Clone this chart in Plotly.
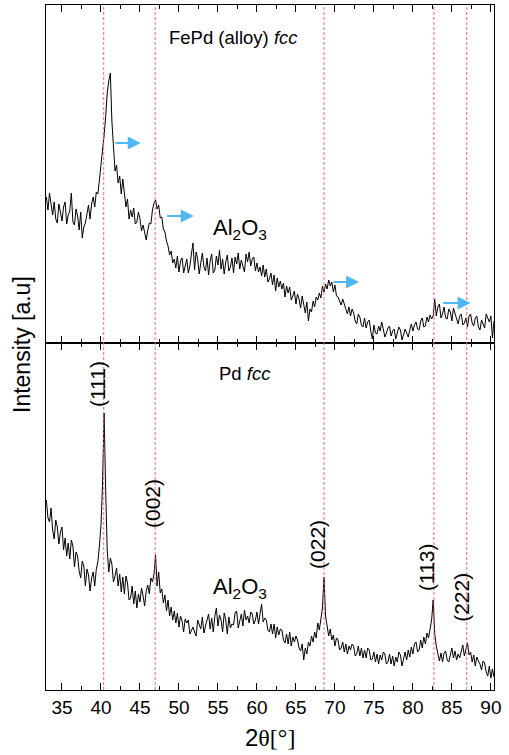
import numpy as np
import plotly.graph_objects as go

# ---------------- data ----------------
# 2theta grid: 33.0 .. 90.4 in 0.2 deg steps (each row below = one degree, 5 samples)
fepd_intensity = [
    146, 133, 150, 139, 128,  # 33
    141, 124, 120, 139, 131,  # 34
    122, 136, 141, 119, 128,  # 35
    132, 150, 121, 118, 134,  # 36
    127, 113, 131, 105, 116,  # 37
    120, 131, 138, 124, 139,  # 38
    146, 136, 151, 149, 163,  # 39
    176, 190, 208, 226, 250,  # 40
    262, 270, 222, 192, 172,  # 41
    178, 160, 167, 149, 164,  # 42
    147, 136, 144, 124, 133,  # 43
    126, 135, 119, 121, 131,  # 44
    124, 112, 118, 109, 103,  # 45
    113, 120, 119, 133, 140,  # 46
    143, 134, 138, 125, 126,  # 47
    114, 111, 102, 97, 88,    # 48
    92, 80, 84, 75, 87,       # 49
    71, 82, 85, 70, 77,       # 50
    84, 70, 77, 89, 100,      # 51
    73, 91, 84, 69, 80,       # 52
    90, 76, 72, 85, 68,       # 53
    82, 89, 70, 73, 87,       # 54
    78, 93, 74, 84, 69,       # 55
    81, 88, 72, 76, 85,       # 56
    70, 86, 79, 90, 74,       # 57
    83, 76, 71, 89, 81,       # 58
    91, 77, 84, 86, 72,       # 59
    80, 71, 76, 67, 78,       # 60
    66, 74, 61, 64, 70,       # 61
    58, 68, 52, 65, 56,       # 62
    62, 54, 60, 46, 57,       # 63
    50, 56, 43, 47, 52,       # 64
    39, 49, 44, 35, 47,       # 65
    36, 30, 41, 22, 34,       # 66
    31, 42, 36, 46, 43,       # 67
    50, 45, 57, 51, 59,       # 68
    54, 63, 57, 61, 51,       # 69
    58, 47, 46, 41, 38,       # 70
    44, 39, 32, 29, 36,       # 71
    27, 34, 30, 22, 19,       # 72
    29, 26, 18, 16, 25,       # 73
    15, 21, 23, 12, 4,        # 74
    18, 10, 9, 17, 12,        # 75
    21, 14, 6, 10, 15,        # 76
    17, 7, 12, 14, 4,         # 77
    9, 16, 13, 3, 8,          # 78
    14, 10, 6, 13, 19,        # 79
    12, 18, 21, 14, 13,       # 80
    22, 25, 16, 17, 26,       # 81
    21, 28, 24, 27, 44,       # 82
    27, 36, 39, 25, 29,       # 83
    36, 25, 24, 34, 31,       # 84
    22, 35, 30, 25, 19,       # 85
    27, 29, 18, 20, 25,       # 86
    16, 27, 29, 20, 17,       # 87
    25, 27, 16, 13, 23,       # 88
    18, 15, 29, 25, 21,       # 89
    27, 5, 22,                # 90
]

pd_intensity = [
    190, 172, 168, 182, 160,  # 33
    151, 170, 163, 146, 158,  # 34
    163, 140, 152, 134, 147,  # 35
    131, 150, 144, 123, 138,  # 36
    134, 119, 112, 129, 124,  # 37
    104, 121, 115, 99, 112,   # 38
    118, 104, 121, 128, 144,  # 39
    165, 205, 277, 200, 140,  # 40
    118, 132, 126, 108, 114,  # 41
    122, 104, 116, 98, 113,   # 42
    96, 114, 107, 90, 92,     # 43
    104, 86, 99, 82, 96,      # 44
    88, 102, 94, 84, 99,      # 45
    105, 96, 112, 108, 116,   # 46
    135, 104, 118, 97, 101,   # 47
    87, 95, 79, 90, 74,       # 48
    83, 70, 79, 67, 77,       # 49
    63, 74, 69, 58, 71,       # 50
    67, 70, 56, 60, 63,       # 51
    58, 54, 70, 66, 61,       # 52
    73, 57, 64, 69, 76,       # 53
    61, 72, 58, 74, 82,       # 54
    64, 75, 70, 58, 77,       # 55
    70, 56, 73, 62, 66,       # 56
    65, 77, 79, 62, 68,       # 57
    76, 64, 80, 70, 74,       # 58
    67, 78, 76, 66, 70,       # 59
    78, 66, 75, 86, 68,       # 60
    72, 70, 60, 58, 66,       # 61
    56, 66, 52, 63, 55,       # 62
    61, 60, 50, 47, 56,       # 63
    46, 58, 44, 53, 48,       # 64
    54, 50, 42, 39, 46,       # 65
    30, 42, 36, 48, 44,       # 66
    54, 48, 58, 52, 67,       # 67
    60, 71, 82, 113, 74,      # 68
    64, 54, 61, 50, 55,       # 69
    44, 52, 50, 40, 42,       # 70
    48, 38, 46, 36, 44,       # 71
    40, 46, 44, 34, 36,       # 72
    44, 34, 42, 32, 40,       # 73
    32, 42, 40, 30, 31,       # 74
    38, 28, 36, 26, 35,       # 75
    30, 38, 36, 26, 28,       # 76
    36, 26, 34, 24, 33,       # 77
    28, 38, 35, 24, 30,       # 78
    38, 30, 40, 33, 43,       # 79
    36, 46, 48, 38, 40,       # 80
    50, 42, 53, 46, 57,       # 81
    52, 61, 70, 90, 56,       # 82
    44, 36, 29, 37, 28,       # 83
    37, 39, 30, 28, 35,       # 84
    42, 32, 39, 30, 36,       # 85
    32, 39, 45, 34, 42,       # 86
    47, 35, 38, 28, 35,       # 87
    24, 33, 29, 26, 20,       # 88
    29, 27, 18, 14, 24,       # 89
    12, 21, 13,               # 90
]

two_theta_start = 33.0
two_theta_step = 0.2
two_theta_fepd = np.round(two_theta_start + two_theta_step * np.arange(len(fepd_intensity)), 2)
two_theta_pd = np.round(two_theta_start + two_theta_step * np.arange(len(pd_intensity)), 2)

# reference peak positions (red dashed lines)
reference_peaks = [40.35, 46.95, 68.6, 82.7, 86.9]

# Miller indices labels (bottom panel) with their positions
hkl_labels = ["(111)", "(002)", "(022)", "(113)", "(222)"]
hkl_x = [39.49, 46.54, 67.69, 81.67, 86.15]
hkl_y = [306, 187, 146, 123, 93]

# peak-shift arrows in the FePd panel (start x, end x, height)
arrow_x0 = [41.65, 48.3, 69.65, 83.7]
arrow_x1 = [45.1, 51.9, 73.1, 87.4]
arrow_y = [200, 127, 61, 40]

x_ticks = [35, 40, 45, 50, 55, 60, 65, 70, 75, 80, 85, 90]

# ---------------- figure ----------------
FONT = "Liberation Sans, Arial, sans-serif"
split = 347 / 685

fig = go.Figure()
fig.add_trace(go.Scatter(x=two_theta_fepd, y=fepd_intensity, mode="lines",
                         line=dict(color="black", width=1), xaxis="x2", yaxis="y2",
                         showlegend=False, hoverinfo="skip"))
fig.add_trace(go.Scatter(x=two_theta_pd, y=pd_intensity, mode="lines",
                         line=dict(color="black", width=1), xaxis="x", yaxis="y",
                         showlegend=False, hoverinfo="skip"))

common_x = dict(range=[32.95, 90.4], showline=True, linecolor="black", linewidth=1.2,
                mirror="ticks", ticks="inside", ticklen=7, tickwidth=1.2, tickcolor="black",
                tickmode="array", tickvals=x_ticks, showgrid=False, zeroline=False,
                minor=dict(ticks="inside", ticklen=4, tickwidth=1.2, tickcolor="black",
                           tickmode="array", tickvals=[v + 2.5 for v in [32.5] + x_ticks]))

fig.update_layout(
    width=509, height=755,
    margin=dict(l=46, r=15, t=5, b=65),
    paper_bgcolor="white", plot_bgcolor="white",
    font=dict(family=FONT, color="black"),
    xaxis=dict(**common_x, anchor="y", domain=[0, 1], showticklabels=True,
               tickfont=dict(size=19, family=FONT)),
    xaxis2=dict(**common_x, anchor="y2", domain=[0, 1], matches="x", showticklabels=False),
    yaxis=dict(domain=[0, split], range=[0, 347], showline=True, linecolor="black",
               linewidth=1.2, mirror=True, ticks="", showticklabels=False,
               showgrid=False, zeroline=False),
    yaxis2=dict(domain=[split, 1], range=[0, 338], showline=True, linecolor="black",
                linewidth=1.2, mirror=True, ticks="", showticklabels=False,
                showgrid=False, zeroline=False),
)

# red dashed reference lines spanning both panels
for px in reference_peaks:
    fig.add_shape(type="line", xref="x", yref="paper", x0=px, x1=px, y0=0, y1=1,
                  line=dict(color="rgba(255,90,90,0.9)", width=1, dash="3px,2px"),
                  layer="above")

annotations = []
# panel titles
annotations.append(dict(x=57.05, y=306, xref="x2", yref="y2", text="FePd (alloy) <i>fcc</i>",
                        showarrow=False, font=dict(size=18.5, family=FONT),
                        xanchor="center", yanchor="middle"))
annotations.append(dict(x=58.46, y=317, xref="x", yref="y", text="Pd <i>fcc</i>",
                        showarrow=False, font=dict(size=18.5, family=FONT),
                        xanchor="center", yanchor="middle"))
# Al2O3 labels
annotations.append(dict(x=57.8, y=114, xref="x2", yref="y2", text="Al<sub>2</sub>O<sub>3</sub>",
                        showarrow=False, font=dict(size=22, family=FONT),
                        xanchor="center", yanchor="middle"))
annotations.append(dict(x=57.8, y=102, xref="x", yref="y", text="Al<sub>2</sub>O<sub>3</sub>",
                        showarrow=False, font=dict(size=22, family=FONT),
                        xanchor="center", yanchor="middle"))
# hkl labels
for lab, hx, hy in zip(hkl_labels, hkl_x, hkl_y):
    annotations.append(dict(x=hx, y=hy, xref="x", yref="y", text=lab, textangle=-90,
                            showarrow=False, font=dict(size=21, family=FONT),
                            xanchor="center", yanchor="middle"))
# arrows
for x0, x1, ay in zip(arrow_x0, arrow_x1, arrow_y):
    annotations.append(dict(x=x1, y=ay, ax=x0, ay=ay, xref="x2", yref="y2",
                            axref="x2", ayref="y2", text="", showarrow=True,
                            arrowhead=2, arrowsize=1.3, arrowwidth=2,
                            arrowcolor="#4db8f5"))
# axis titles
annotations.append(dict(x=(270 - 46) / 448, y=(690 - 737) / 685, xref="paper", yref="paper",
                        text="2<span style='font-family:Liberation Serif'>θ[°]</span>",
                        showarrow=False, font=dict(size=24, family=FONT),
                        xanchor="center", yanchor="middle"))
annotations.append(dict(x=(22 - 46) / 448, y=(690 - 345) / 685, xref="paper", yref="paper",
                        text="Intensity [a.u]", textangle=-90,
                        showarrow=False, font=dict(size=23, family=FONT),
                        xanchor="center", yanchor="middle"))

fig.update_layout(annotations=annotations)

fig.write_html("out.html")
